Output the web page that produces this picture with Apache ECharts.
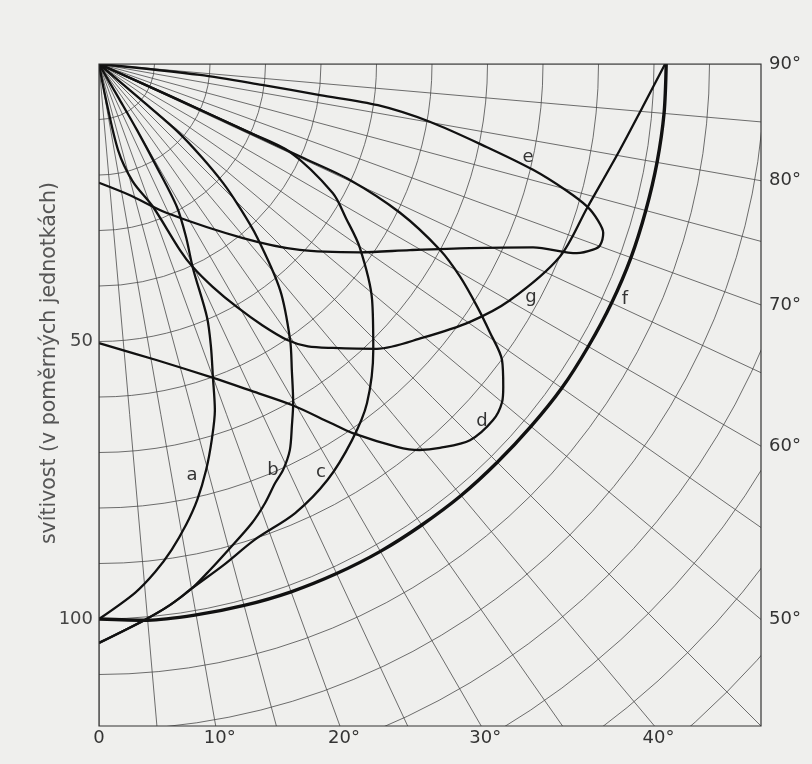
<!DOCTYPE html>
<html>
<head>
<meta charset="utf-8">
<script src="https://cdn.jsdelivr.net/npm/echarts@6/dist/echarts.min.js"></script>
<style>
html,body{margin:0;padding:0;background:#efefed;}
#chart{width:812px;height:764px;}
</style>
</head>
<body>
<div id="chart"></div>
<script>
// ---- data: [angle in degrees from downward vertical, luminous intensity] ----
const curveA = [[30,0],[30,7],[29.9,13.7],[29.3,21],[28.6,29.3],[26.7,34.9],[24.7,40.5],[23.1,49.6],[21.6,54.8],[20,60],[18.5,65.8],[16.7,70.7],[14.8,75.6],[12.7,80.5],[10.7,84.5],[8.5,88.5],[6.3,92.1],[3.9,95.5],[0,100]];
const curveB = [[50,0],[49.6,10],[49.3,18.8],[47.8,25],[46.2,31],[44.6,35.7],[42.4,42.2],[38.7,52.2],[34.7,60.5],[32.2,65.2],[29.8,70.4],[28.1,73.8],[26.3,77.6],[24.4,80.3],[22.8,81.9],[20.7,84.6],[18.4,87.2],[14.9,90.6],[12.4,93.3],[10.1,95.9],[7.5,98.3],[4.7,100.5],[0,104.3]];
const curveC = [[66,0],[65.8,15],[65.5,29.5],[65.3,37.7],[61.1,48.1],[58,52.5],[54.9,57.4],[49.2,65],[43.8,71.4],[38.3,77.9],[33.9,81.7],[28.8,85.5],[23.6,88.3],[18.1,90.2],[14,93],[10.1,95.9],[7.5,98.3],[4.7,100.5],[0,104.3]];
const curveD = [[0,50.3],[11.1,54.4],[20,60.2],[25,65],[29.5,70.6],[32.8,76.9],[34.5,80.7],[37.9,87.4],[39.7,90.4],[41.6,92.5],[44.6,95.2],[47.9,95.7],[50,94.8],[51.4,93.2],[53.7,90.1],[55.5,85.5],[57.3,81],[59.5,75.5],[61.4,70],[63.7,60.5],[65.2,49.8],[65.3,39.9],[65.5,29.5],[65.7,15],[66,0]];
const curveE = [[0,21.4],[13.3,24.3],[24.5,29.5],[39.6,40.7],[47.2,49.3],[54.2,58],[59.1,65.3],[63.6,74.6],[67.1,84.9],[68.4,92.6],[69.4,95.1],[70.1,96],[71.5,95.8],[72.6,94.2],[73.7,91.7],[74.9,87],[76.3,80.5],[77.9,71.5],[80.1,60.5],[81.6,50.8],[82,40.2],[82.7,29.6],[83.8,18.3],[84,0]];
const curveF = [[0,100],[5,100.6],[10,100.8],[15,101],[20,101.2],[25,101.3],[30,101.4],[35,101.4],[40,101.5],[45,101.5],[50,101.6],[55,101.8],[60,101.8],[65,101.9],[70,102],[75,102],[80,102.1],[85,102.2],[90,102.2]];
const curveG = [[10,0],[11,6],[12.5,16],[16,22],[20.7,27.5],[23.5,36.5],[24.8,40.3],[27,45],[29.6,50.4],[32,55.5],[34.3,60.2],[36.5,63.3],[39.5,66.3],[44.3,71.7],[49.8,76.4],[55.2,81.4],[60.1,85.4],[67.3,90],[73.6,91.7],[80.6,95.1],[85.4,98.2],[90,102]];

const curveNames = ['a','b','c','d','e','f','g'];
const bottomTicks = [0, 10, 20, 30, 40];
const rightTicks = [50, 60, 70, 80, 90];
const leftTicks = [50, 100];
const axisTitle = 'svítivost (v poměrných jednotkách)';

// ---- layout (pixels) ----
const BG = '#efefed';
const POLE = [99, 64];
const SIZE = 662;            // side of the square frame
const PX_PER_UNIT = 5.55;    // pixels per intensity unit
const R_MAX = 170;
const LABEL_POS = {a:[192,475], b:[273,470], c:[321,472], d:[482,421], e:[528,157], f:[625,299], g:[531,297]};

const chart = echarts.init(document.getElementById('chart'), null, {renderer: 'canvas'});

function toPolar(pts){ return pts.map(p => [p[1], p[0]]); }
const curves = [curveA, curveB, curveC, curveD, curveE, curveF, curveG];

chart.setOption({
  backgroundColor: BG,
  animation: false,
  polar: { center: POLE, radius: R_MAX * PX_PER_UNIT },
  radiusAxis: {
    type: 'value', min: 0, max: R_MAX, interval: 10,
    axisLine: {show: false}, axisTick: {show: false}, axisLabel: {show: false},
    splitLine: {show: true, lineStyle: {color: '#4a4a4a', width: 0.8}}
  },
  angleAxis: {
    type: 'value', min: 0, max: 360, interval: 5,
    startAngle: 270, clockwise: false,
    axisLine: {show: false}, axisTick: {show: false}, axisLabel: {show: false},
    splitLine: {show: true, lineStyle: {color: '#4a4a4a', width: 0.8}}
  },
  series: curves.map((c, i) => ({
    name: curveNames[i],
    type: 'line',
    coordinateSystem: 'polar',
    data: toPolar(c),
    showSymbol: false,
    smooth: 0.3,
    silent: true,
    z: 5,
    lineStyle: {color: '#111', width: curveNames[i] === 'f' ? 3.4 : 2.3}
  }))
});

function px(r, ang){
  let p = null;
  try { p = chart.convertToPixel({polarIndex: 0}, [r, ang]); } catch(e) { p = null; }
  if (!p) {
    const rad = ang * Math.PI / 180;
    p = [POLE[0] + r * PX_PER_UNIT * Math.sin(rad), POLE[1] + r * PX_PER_UNIT * Math.cos(rad)];
  }
  return p;
}

const textStyleBase = {fill: '#333', fontFamily: 'DejaVu Sans', fontSize: 18};
const W = 812, H = 764;
const right = POLE[0] + SIZE, bottom = POLE[1] + SIZE;
const g = [];
// masks outside the square frame
g.push({type:'rect', z: 50, silent: true, shape:{x:0, y:0, width:W, height:POLE[1]}, style:{fill:BG}});
g.push({type:'rect', z: 50, silent: true, shape:{x:0, y:0, width:POLE[0], height:H}, style:{fill:BG}});
g.push({type:'rect', z: 50, silent: true, shape:{x:right, y:0, width:W-right, height:H}, style:{fill:BG}});
g.push({type:'rect', z: 50, silent: true, shape:{x:0, y:bottom, width:W, height:H-bottom}, style:{fill:BG}});
// frame
g.push({type:'rect', z: 51, silent: true, shape:{x:POLE[0], y:POLE[1], width:SIZE, height:SIZE}, style:{fill:'none', stroke:'#333', lineWidth:1.2}});

// bottom angle labels
bottomTicks.forEach(t => {
  const r = SIZE / Math.cos(t * Math.PI / 180) / PX_PER_UNIT;
  const p = px(r, t);
  g.push({type:'text', z: 52, silent: true, x: p[0] + (t === 0 ? 0 : 4), y: p[1] + 12,
    style: Object.assign({}, textStyleBase, {text: t === 0 ? '0' : t + '°', align: 'center', verticalAlign: 'middle'})});
});
// right angle labels
rightTicks.forEach(t => {
  const r = SIZE / Math.sin(t * Math.PI / 180) / PX_PER_UNIT;
  const p = px(r, t);
  g.push({type:'text', z: 52, silent: true, x: p[0] + 8, y: p[1],
    style: Object.assign({}, textStyleBase, {text: t + '°', align: 'left', verticalAlign: 'middle'})});
});
// left intensity labels
leftTicks.forEach(v => {
  const p = px(v, 0);
  g.push({type:'text', z: 52, silent: true, x: p[0] - 6, y: p[1],
    style: Object.assign({}, textStyleBase, {text: String(v), align: 'right', verticalAlign: 'middle', fill: '#444'})});
});
// axis title
g.push({type:'text', z: 52, silent: true, x: 50, y: 363, rotation: Math.PI / 2,
  style: {text: axisTitle, fill: '#555', fontFamily: 'DejaVu Sans', fontSize: 20.5, align: 'center', verticalAlign: 'middle'}});
// curve letters
curveNames.forEach(n => {
  const p = LABEL_POS[n];
  g.push({type:'text', z: 52, silent: true, x: p[0], y: p[1],
    style: Object.assign({}, textStyleBase, {text: n, align: 'center', verticalAlign: 'middle'})});
});

chart.setOption({graphic: {elements: g}});
</script>
</body>
</html>
